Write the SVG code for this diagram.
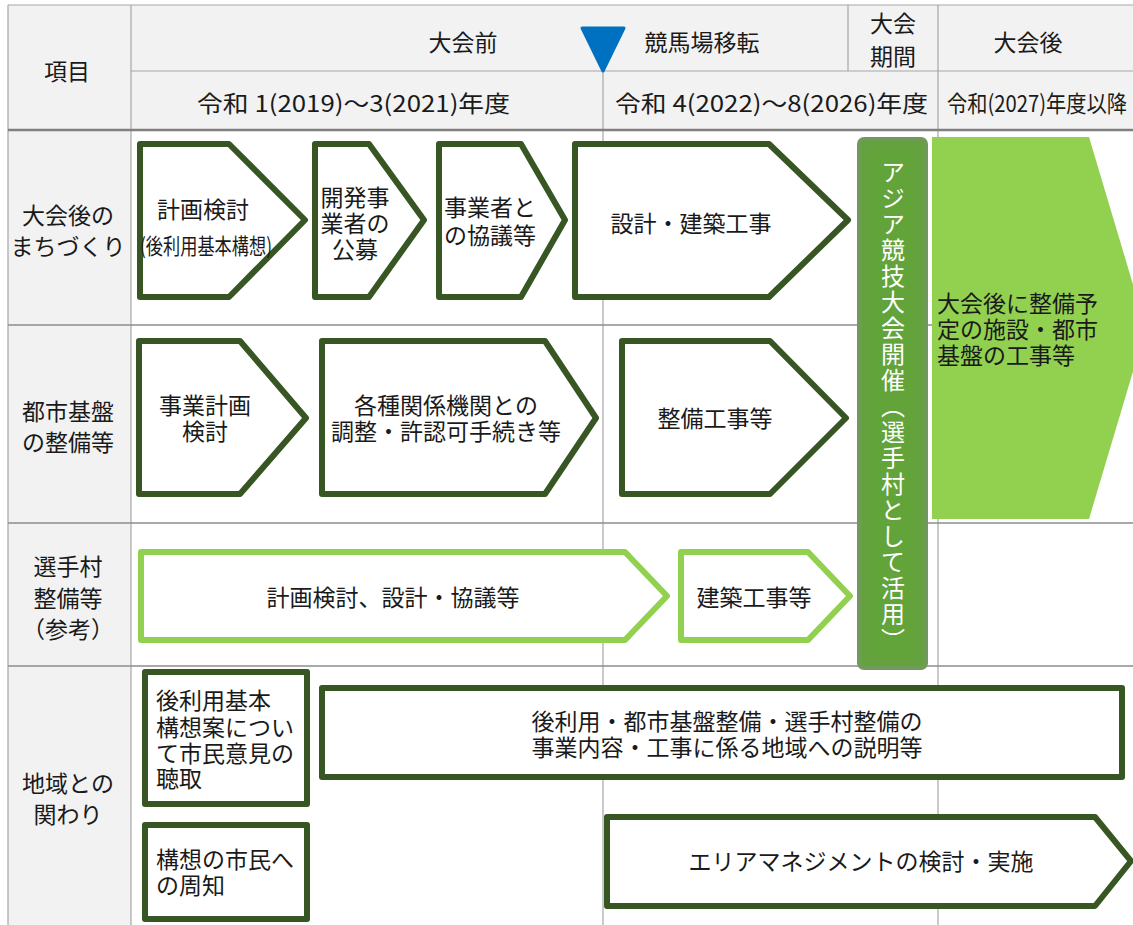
<svg xmlns="http://www.w3.org/2000/svg" width="1133" height="925" viewBox="0 0 1133 925">
<style>
.t{font-family:"Noto Sans CJK JP","Noto Sans",sans-serif;font-size:23px;fill:#1a1a1a;dominant-baseline:central}
.c{text-anchor:middle}
.dk{fill:#fff;stroke:#375623;stroke-width:6;stroke-linejoin:round}
.lt{fill:#fff;stroke:#92d050;stroke-width:6;stroke-linejoin:round}
.g{stroke:#a6a6a6;stroke-width:1.2;fill:none}
.gh{stroke:#8c8c8c;stroke-width:1.6;fill:none}
</style>
<rect x="0" y="0" width="1133" height="925" fill="#fff"/>
<g id="table">
<rect x="8" y="5" width="1125" height="125" fill="#f2f2f2"/>
<rect x="8" y="130" width="123" height="795" fill="#f2f2f2"/>
<line class="g" x1="8" y1="5" x2="1133" y2="5"/>
<line class="g" x1="8" y1="5" x2="8" y2="925"/>
<line class="g" x1="131" y1="5" x2="131" y2="925"/>
<line class="g" x1="131" y1="71" x2="1133" y2="71"/>
<line class="g" x1="848" y1="5" x2="848" y2="71"/>
<line class="g" x1="938" y1="5" x2="938" y2="925"/>
<line class="g" x1="603" y1="71" x2="603" y2="925"/>
<line stroke="#808080" stroke-width="2.5" x1="8" y1="130" x2="1133" y2="130"/>
<line class="gh" x1="8" y1="325" x2="1133" y2="325"/>
<line class="gh" x1="8" y1="523" x2="1133" y2="523"/>
<line class="gh" x1="8" y1="666" x2="1133" y2="666"/>
</g>
<g id="header">
<text class="t c" x="67" y="70">項目</text>
<text class="t c" x="463" y="41">大会前</text>
<text class="t c" x="702" y="41">競馬場移転</text>
<text class="t c" x="893" y="22">大会</text>
<text class="t c" x="893" y="55">期間</text>
<text class="t c" x="1028" y="41">大会後</text>
<text class="t" x="197" y="102" textLength="313" lengthAdjust="spacingAndGlyphs">令和 1(2019)～3(2021)年度</text>
<text class="t" x="615" y="102" textLength="313" lengthAdjust="spacingAndGlyphs">令和 4(2022)～8(2026)年度</text>
<text class="t" x="947" y="102" textLength="180" lengthAdjust="spacingAndGlyphs">令和(2027)年度以降</text>
</g>
<g id="milestone">
<polygon points="582,28 624,28 603,71" fill="#0070c0" stroke="#0070c0" stroke-width="3" stroke-linejoin="round"/>
</g>
<g id="row-labels">
<text class="t c" x="68" y="214">大会後の</text>
<text class="t c" x="68" y="245">まちづくり</text>
<text class="t c" x="68" y="410">都市基盤</text>
<text class="t c" x="68" y="441">の整備等</text>
<text class="t c" x="68" y="565">選手村</text>
<text class="t c" x="68" y="597">整備等</text>
<text class="t c" x="68" y="628">（参考）</text>
<text class="t c" x="68" y="782">地域との</text>
<text class="t c" x="68" y="813">関わり</text>
</g>
<g id="n1">
<polygon class="dk" points="140,144 229,144 305,220 229,297 140,297"/>
<text class="t c" x="203" y="208">計画検討</text>
<text class="t c" x="206" y="244" style="font-size:22px" textLength="132" lengthAdjust="spacingAndGlyphs">(後利用基本構想)</text>
</g>
<g id="n2">
<polygon class="dk" points="315,144 369,144 424,220 369,297 315,297"/>
<text class="t c" x="355" y="196">開発事</text>
<text class="t c" x="355" y="222">業者の</text>
<text class="t c" x="355" y="248">公募</text>
</g>
<g id="n3">
<polygon class="dk" points="439,144 521,144 565,220 521,297 439,297"/>
<text class="t c" x="490" y="206">事業者と</text>
<text class="t c" x="490" y="234">の協議等</text>
</g>
<g id="n4">
<polygon class="dk" points="575,144 769,144 848,220 769,297 575,297"/>
<text class="t c" x="691" y="222">設計・建築工事</text>
</g>
<g id="n5">
<polygon class="dk" points="139,341 240,341 306,418 240,494 139,494"/>
<text class="t c" x="205" y="404">事業計画</text>
<text class="t c" x="205" y="430">検討</text>
</g>
<g id="n6">
<polygon class="dk" points="322,341 545,341 596,418 545,494 322,494"/>
<text class="t c" x="446" y="404">各種関係機関との</text>
<text class="t c" x="446" y="430">調整・許認可手続き等</text>
</g>
<g id="n7">
<polygon class="dk" points="622,341 770,341 846,418 770,494 622,494"/>
<text class="t c" x="715" y="417">整備工事等</text>
</g>
<g id="n8">
<polygon class="lt" points="141,552 625,552 667,596 625,640 141,640"/>
<text class="t c" x="393" y="596">計画検討、設計・協議等</text>
</g>
<g id="n9">
<polygon class="lt" points="681,552 808,552 850,596 808,640 681,640"/>
<text class="t c" x="754" y="596">建築工事等</text>
</g>
<g id="n-after">
<polygon points="932,137 1089,137 1146,328 1089,519 932,519" fill="#92d050"/>
<text class="t" x="937" y="302">大会後に整備予</text>
<text class="t" x="937" y="328">定の施設・都市</text>
<text class="t" x="937" y="354">基盤の工事等</text>
</g>
<g id="n-games">
<rect x="859" y="139" width="67" height="529" rx="5" fill="#62a33a" stroke="#72995c" stroke-width="4"/>
<rect x="866" y="146" width="53" height="515" fill="none" stroke="#6f9a5a" stroke-width="1"/>
<text x="893" y="160" writing-mode="vertical-rl" style="font-family:'Noto Sans CJK JP','Noto Sans',sans-serif;font-size:24px;fill:#fff;letter-spacing:2px">アジア競技大会開催（選手村として活用）</text>
</g>
<g id="n10">
<rect class="dk" x="145" y="672" width="162" height="132"/>
<text class="t" x="156" y="699">後利用基本</text>
<text class="t" x="156" y="726">構想案につい</text>
<text class="t" x="156" y="752">て市民意見の</text>
<text class="t" x="156" y="777">聴取</text>
</g>
<g id="n11">
<rect class="dk" x="145" y="825" width="162" height="94"/>
<text class="t" x="156" y="858">構想の市民へ</text>
<text class="t" x="156" y="884">の周知</text>
</g>
<g id="n12">
<rect class="dk" x="322" y="688" width="800" height="89"/>
<text class="t c" x="727" y="720">後利用・都市基盤整備・選手村整備の</text>
<text class="t c" x="727" y="746">事業内容・工事に係る地域への説明等</text>
</g>
<g id="n13">
<polygon class="dk" points="607,817 1095,817 1131,861 1095,906 607,906"/>
<text class="t c" x="861" y="860">エリアマネジメントの検討・実施</text>
</g>
<g id="connectors"></g>
</svg>
